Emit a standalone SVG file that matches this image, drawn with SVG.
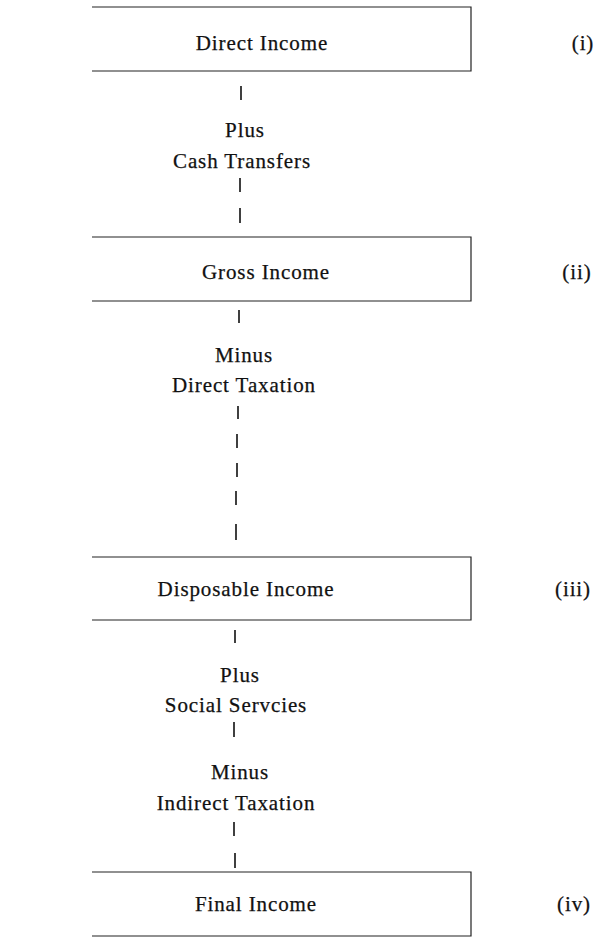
<svg xmlns="http://www.w3.org/2000/svg" width="603" height="942" viewBox="0 0 603 942">
<style>
.box{fill:none;stroke:#222;stroke-width:1.2}
.t{font-family:"Liberation Serif","Times New Roman",serif;font-size:21px;fill:#111;letter-spacing:0.9px;text-anchor:middle;stroke:#111;stroke-width:0.25}
.d{stroke:#111;stroke-width:1.6}
</style>
<rect width="603" height="942" fill="#fff"/>
<g id="n1">
<path class="box" d="M92 7H471V71H92"/>
<text class="t" x="262" y="50">Direct Income</text>
<text class="t" x="583" y="50">(i)</text>
</g>
<g id="n2">
<path class="box" d="M92 237H471V301H92"/>
<text class="t" x="266" y="279">Gross Income</text>
<text class="t" x="577" y="279">(ii)</text>
</g>
<g id="n3">
<path class="box" d="M92 557H471V620H92"/>
<text class="t" x="246" y="596">Disposable Income</text>
<text class="t" x="573" y="596">(iii)</text>
</g>
<g id="n4">
<path class="box" d="M92 872H471V936H92"/>
<text class="t" x="256" y="911">Final Income</text>
<text class="t" x="574" y="911">(iv)</text>
</g>
<g id="connectors">
<path class="d" d="M241 86V100M240 178V192M240 208V223M239 310V323M238 406V419M237 434V448M237 463V477M236 491V505M236 524V540M235 630V643M234 722V737M234 822V836M235 853V868"/>
<text class="t" x="245" y="137">Plus</text>
<text class="t" x="242" y="168">Cash Transfers</text>
<text class="t" x="244" y="362">Minus</text>
<text class="t" x="244" y="392">Direct Taxation</text>
<text class="t" x="240" y="682">Plus</text>
<text class="t" x="236" y="712">Social Servcies</text>
<text class="t" x="240" y="779">Minus</text>
<text class="t" x="236" y="810">Indirect Taxation</text>
</g>
</svg>
